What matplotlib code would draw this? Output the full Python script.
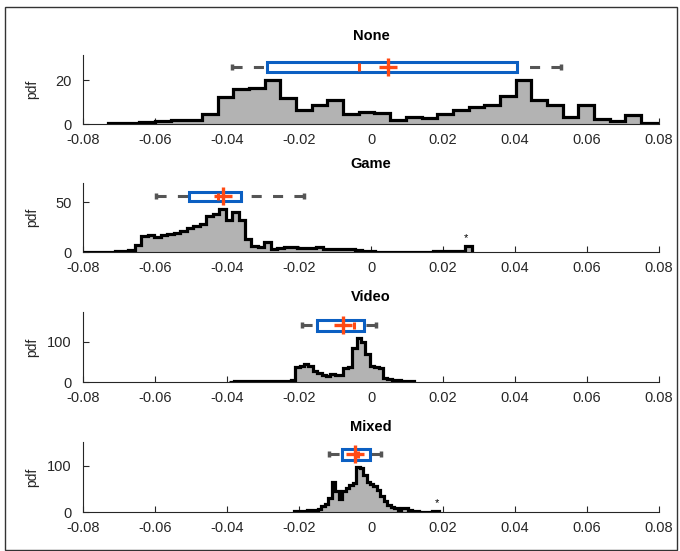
import numpy as np
import matplotlib
matplotlib.use('Agg')
import matplotlib.pyplot as plt
from matplotlib.patches import Rectangle

plt.rcParams['font.family'] = ['Liberation Sans', 'DejaVu Sans']

titles = ['None', 'Game', 'Video', 'Mixed']

# histogram heights (pdf), uniform bins between lo and hi
none_counts = [0.6, 0.3, 0.8, 1.2, 1.7, 2.0, 4.6, 12.5, 16, 16.5, 20, 11.7, 6.3, 8.5,
               10.9, 4.6, 5.4, 4.9, 2.0, 3.2, 2.8, 4.6, 6.2, 7.7, 8.6, 12.8, 20, 10.9,
               8.6, 3.2, 8.6, 2.5, 1.2, 4.0, 0.5]
none_range = (-0.0731, 0.0794)

game_counts = [0.5, 0.5, 0.3, 0.5, 0.5, 0.7, 1.0, 2.0, 7, 15.7, 17, 15, 17, 18, 19.5,
               21, 24, 26, 28, 36, 38, 43, 32, 40.7, 32, 13, 5.7, 5, 9.7, 3.3, 4, 5, 5,
               4.5, 4, 4, 5.5, 3.5, 3.3, 3.3, 3.3, 3, 2, 1.5, 0.8, 0.5, 0.5, 0.4, 0.5,
               0.5, 0.4, 0.5, 0.5, 0.5, 0.6, 0.6, 0.7, 0.8, 1.2, 5.7]
game_range = (-0.08, 0.028)

video_counts = [1.0, 1.5, 2, 3, 3, 3, 2.5, 2, 2, 2, 2, 2.5, 2.5, 3, 4, 38, 40, 45, 40,
                28, 22, 17, 16, 19, 18, 18, 35, 38, 85, 110, 100, 70, 40, 37, 35, 10,
                7, 5, 4, 3, 2, 1.5]
video_range = (-0.0394, 0.0119)

mixed_counts = [1.5, 2, 2.5, 3, 4, 5, 5, 6, 14, 18, 30, 65, 45, 28, 45, 52, 58, 64, 98,
                95, 80, 66, 60, 57, 48, 35, 24, 15, 11, 8, 5, 8, 9, 4, 2.5, 1.5, 1, 1,
                1, 1, 2, 2.5]
mixed_range = (-0.0215, 0.0190)

# box stats: whisker low, q1, median, q3, whisker high, mean
none_box = [-0.0387, -0.0290, -0.0033, 0.0405, 0.0528, 0.0048]
game_box = [-0.0596, -0.0506, -0.0426, -0.0361, -0.0185, -0.0411]
video_box = [-0.0192, -0.0149, -0.0046, -0.0019, 0.0014, -0.0077]
mixed_box = [-0.0116, -0.0080, -0.0035, -0.0004, 0.0028, -0.0044]

# '*' marks above isolated bins
star_x = [None, 0.0265, None, 0.0183]

xticks = [-0.08, -0.06, -0.04, -0.02, 0, 0.02, 0.04, 0.06, 0.08]
xticklabels = ['-0.08', '-0.06', '-0.04', '-0.02', '0', '0.02', '0.04', '0.06', '0.08']
yticks = [[0, 20], [0, 50], [0, 100], [0, 100]]

counts_all = [none_counts, game_counts, video_counts, mixed_counts]
ranges_all = [none_range, game_range, video_range, mixed_range]
boxes_all = [none_box, game_box, video_box, mixed_box]

# layout
W, H = 680, 551
ax_px = [(55, 124), (183, 252), (312, 382), (442, 512)]
ylims = [31.4, 69.4, 174, 152]
title_pad = [11, 11, 8, 8]
box_level = [26, 56, 141, 125]
box_half = [2.4, 4.7, 13, 11.5]

blue = '#0b5fc2'
red = '#ff4a14'
wgray = '#555555'
fill_gray = '#b3b3b3'
axcol = '#262626'

fig = plt.figure(figsize=(W / 100, H / 100), dpi=100)

for i, name in enumerate(titles):
    top, bot = ax_px[i]
    ax = fig.add_axes([83 / W, (H - bot) / H, 576 / W, (bot - top) / H])

    counts = np.array(counts_all[i], dtype=float)
    edges = np.linspace(ranges_all[i][0], ranges_all[i][1], len(counts) + 1)
    ax.stairs(counts, edges, fill=True, color=fill_gray, lw=0, zorder=2)
    ax.stairs(counts, edges, color='black', lw=2.3, baseline=0, zorder=3,
              joinstyle='miter')

    lo, q1, med, q3, hi, mean = boxes_all[i]
    yb = box_level[i]
    hh = box_half[i]
    ax.plot([lo, q1], [yb, yb], color=wgray, lw=2.2, ls=(0, (3.3, 3.7)),
            dash_capstyle='butt', zorder=4)
    ax.plot([hi, q3], [yb, yb], color=wgray, lw=2.2, ls=(0, (3.3, 3.7)),
            dash_capstyle='butt', zorder=4)
    ax.plot([lo, hi], [yb, yb], ls='none', marker='|', ms=5, mew=2.5,
            color=wgray, zorder=4)
    ax.add_patch(Rectangle((q1, yb - hh), q3 - q1, 2 * hh, fc='white', ec=blue,
                           lw=2.2, joinstyle='miter', zorder=5))
    ax.plot([med, med], [yb - hh * 0.7, yb + hh * 0.7], color=red, lw=2.2,
            solid_capstyle='butt', zorder=6)
    ax.plot(mean, yb, marker='+', ms=13, mew=2.4, color=red, zorder=7)

    if star_x[i] is not None:
        k = np.searchsorted(edges, star_x[i]) - 1
        k = min(max(k, 0), len(counts) - 1)
        ax.annotate('*', (star_x[i], counts[k]), xytext=(0, 2),
                    textcoords='offset points', ha='center', va='bottom',
                    fontsize=8)

    ax.set_xlim(-0.08, 0.08)
    ax.set_ylim(0, ylims[i])
    ax.set_xticks(xticks)
    ax.set_xticklabels(xticklabels)
    ax.set_yticks(yticks[i])
    ax.set_yticklabels([str(v) for v in yticks[i]])
    for s in ['top', 'right']:
        ax.spines[s].set_visible(False)
    for s in ['left', 'bottom']:
        ax.spines[s].set_color(axcol)
        ax.spines[s].set_linewidth(0.8)
    ax.tick_params(direction='in', length=4, width=0.8, colors=axcol, labelsize=10.5)
    ax.tick_params(axis='x', pad=6.5)
    ax.tick_params(axis='y', pad=8)
    ax.set_ylabel('pdf', fontsize=10, color=axcol)
    ax.yaxis.set_label_coords(-0.076, 0.5)
    ax.set_title(name, fontsize=10.5, fontweight='bold', pad=title_pad[i], color='black')
    ax.patch.set_visible(False)

fig.add_artist(Rectangle((5 / W, 1 / H), 672 / W, 543 / H, transform=fig.transFigure,
                         fill=False, ec='#333333', lw=1.0))

fig.savefig('out.png', dpi=100, facecolor='white')
